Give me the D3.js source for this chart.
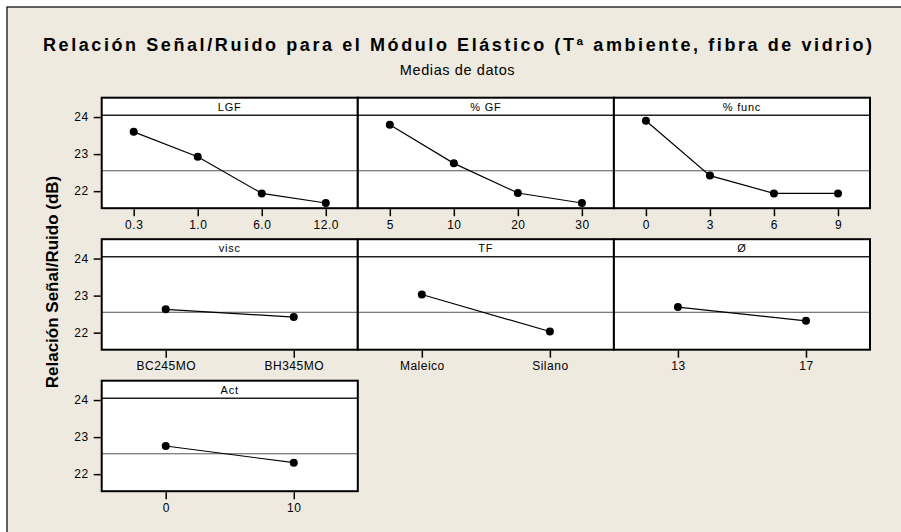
<!DOCTYPE html>
<html>
<head>
<meta charset="utf-8">
<script src="https://cdn.jsdelivr.net/npm/d3@7"></script>
<style>
  body { margin: 0; background: #fff; }
  text { font-family: "Liberation Sans", Arial, sans-serif; fill: #000; }
</style>
</head>
<body>
<div id="chart"></div>
<script>
// main effects plot for S/N ratios (Minitab style)
const TITLE = 'Relación Señal/Ruido para el Módulo Elástico (Tª ambiente, fibra de vidrio)';
const SUBTITLE = 'Medias de datos';
const Y_LABEL = 'Relación Señal/Ruido (dB)';

const FACTORS = ['LGF', '% GF', '% func', 'visc', 'TF', 'Ø', 'Act'];

const LEVELS_LGF = ['0.3', '1.0', '6.0', '12.0'];
const LEVELS_GF = ['5', '10', '20', '30'];
const LEVELS_FUNC = ['0', '3', '6', '9'];
const LEVELS_VISC = ['BC245MO', 'BH345MO'];
const LEVELS_TF = ['Maleico', 'Silano'];
const LEVELS_DIAM = ['13', '17'];
const LEVELS_ACT = ['0', '10'];

const MEANS_LGF = [23.60, 22.93, 21.94, 21.68];
const MEANS_GF = [23.79, 22.75, 21.95, 21.68];
const MEANS_FUNC = [23.90, 22.42, 21.94, 21.94];
const MEANS_VISC = [22.63, 22.42];
const MEANS_TF = [23.03, 22.03];
const MEANS_DIAM = [22.69, 22.32];
const MEANS_ACT = [22.76, 22.31];

const GRAND_MEAN = 22.55;
const Y_TICKS = [22, 23, 24];

const panels = [
  { levels: LEVELS_LGF, means: MEANS_LGF },
  { levels: LEVELS_GF, means: MEANS_GF },
  { levels: LEVELS_FUNC, means: MEANS_FUNC },
  { levels: LEVELS_VISC, means: MEANS_VISC },
  { levels: LEVELS_TF, means: MEANS_TF },
  { levels: LEVELS_DIAM, means: MEANS_DIAM },
  { levels: LEVELS_ACT, means: MEANS_ACT },
].map((p, i) => ({ ...p, name: FACTORS[i], col: i % 3, row: Math.floor(i / 3) }));

const width = 901;
const height = 532;
const BG = '#eeeae0';

const stripH = 17.5;
const plotH = 93;

const colScale = d3.scaleBand().domain([0, 1, 2]).range([101.7, 870]);
const rowScale = d3.scaleBand().domain([0, 1, 2]).range([97.7, 97.7 + 3 * 141.5]);
const colW = colScale.bandwidth();

const y = d3.scaleLinear()
  .domain([21.54, 24.05])
  .range([stripH + plotH, stripH]);

const svg = d3.select('#chart')
  .append('svg')
    .attr('width', width)
    .attr('height', height);

// chart frame, runs off the right and bottom edges
svg.append('rect')
  .attr('x', 7)
  .attr('y', 7)
  .attr('width', width + 20)
  .attr('height', height + 20)
  .attr('fill', BG)
  .attr('stroke', '#000')
  .attr('stroke-width', 1.2);

svg.append('text')
  .attr('x', 457.5)
  .attr('y', 51)
  .attr('text-anchor', 'middle')
  .attr('font-size', 18)
  .attr('font-weight', 'bold')
  .attr('textLength', 829)
  .attr('lengthAdjust', 'spacing')
  .text(TITLE);

svg.append('text')
  .attr('x', 457.5)
  .attr('y', 75)
  .attr('text-anchor', 'middle')
  .attr('font-size', 14.5)
  .attr('letter-spacing', 0.6)
  .text(SUBTITLE);

svg.append('text')
  .attr('transform', 'translate(58,282) rotate(-90)')
  .attr('text-anchor', 'middle')
  .attr('font-size', 17)
  .attr('font-weight', 'bold')
  .text(Y_LABEL);

const line = d3.line();

for (const p of panels) {
  const x = d3.scalePoint()
    .domain(p.levels)
    .range([0, colW])
    .padding(0.5);

  const g = svg.append('g')
    .attr('transform', `translate(${colScale(p.col)},${rowScale(p.row)})`);

  g.append('rect')
    .attr('width', colW)
    .attr('height', stripH + plotH)
    .attr('fill', '#fff');

  // reference line at the grand mean
  g.append('line')
    .attr('x1', 0)
    .attr('x2', colW)
    .attr('y1', y(GRAND_MEAN))
    .attr('y2', y(GRAND_MEAN))
    .attr('stroke', '#555')
    .attr('stroke-width', 1);

  const pts = p.levels.map((lv, i) => [x(lv), y(p.means[i])]);

  g.append('path')
    .attr('d', line(pts))
    .attr('fill', 'none')
    .attr('stroke', '#000')
    .attr('stroke-width', 1.2);

  g.selectAll('circle')
    .data(pts)
    .join('circle')
      .attr('cx', d => d[0])
      .attr('cy', d => d[1])
      .attr('r', 4)
      .attr('fill', '#000');

  // strip with factor name
  g.append('line')
    .attr('x1', 0)
    .attr('x2', colW)
    .attr('y1', stripH)
    .attr('y2', stripH)
    .attr('stroke', '#222')
    .attr('stroke-width', 1.5);

  g.append('text')
    .attr('x', colW / 2)
    .attr('y', stripH - 4.5)
    .attr('text-anchor', 'middle')
    .attr('font-size', 11)
    .attr('letter-spacing', 0.8)
    .attr('fill', '#222')
    .text(p.name);

  g.append('rect')
    .attr('width', colW)
    .attr('height', stripH + plotH)
    .attr('fill', 'none')
    .attr('stroke', '#000')
    .attr('stroke-width', 2);

  const xAxis = g.append('g')
    .attr('transform', `translate(0,${stripH + plotH + 1})`)
    .call(d3.axisBottom(x).tickSize(7).tickPadding(4));
  styleAxis(xAxis);

  if (p.col === 0) {
    const yAxis = g.append('g')
      .attr('transform', 'translate(-1,0)')
      .call(d3.axisLeft(y)
        .tickValues(Y_TICKS)
        .tickFormat(d3.format('d'))
        .tickSize(7)
        .tickPadding(5));
    styleAxis(yAxis);
  }
}

function styleAxis(ax) {
  ax.select('.domain').remove();
  ax.selectAll('.tick line')
    .attr('stroke', '#000')
    .attr('stroke-width', 1.5);
  ax.selectAll('.tick text')
    .attr('font-family', '"Liberation Sans", Arial, sans-serif')
    .attr('font-size', 12)
    .attr('letter-spacing', 0.5)
    .attr('fill', '#000');
}
</script>
</body>
</html>
